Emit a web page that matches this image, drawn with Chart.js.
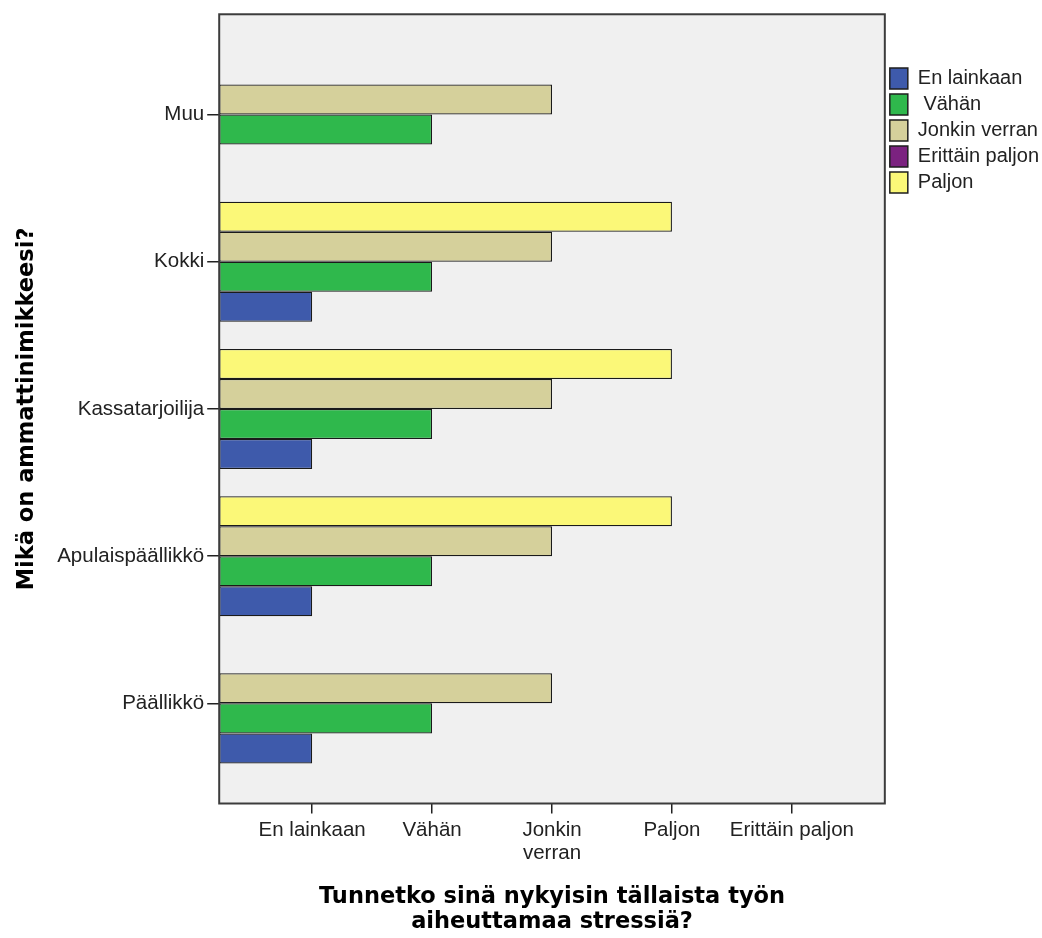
<!DOCTYPE html>
<html lang="fi">
<head>
<meta charset="utf-8">
<title>Työn aiheuttama stressi ammattinimikkeittäin</title>
<script src="https://cdn.jsdelivr.net/npm/chart.js@4.4.1/dist/chart.umd.min.js"></script>
<style>
  html, body { margin: 0; padding: 0; background: #ffffff; }
  #wrap { position: relative; width: 1042px; height: 938px; }
</style>
</head>
<body>
<div id="wrap"><canvas id="chart"></canvas></div>
<script>
// Ammattinimikkeet (pystyakseli, ylhäältä alas)
const categories = ['Muu', 'Kokki', 'Kassatarjoilija', 'Apulaispäällikkö', 'Päällikkö'];

// Stressin tasot vaaka-akselilla
const levelTicks = [1, 2, 3, 4, 5];
const levelLabels = ['En lainkaan', 'Vähän', ['Jonkin', 'verran'], 'Paljon', 'Erittäin paljon'];

// Vastausluokkien arvot ammattinimikkeittäin (null = ei palkkia)
const enLainkaan     = [null, 1, 1, 1, 1];
const vahan          = [2, 2, 2, 2, 2];
const jonkinVerran   = [3, 3, 3, 3, 3];
const erittainPaljon = [null, null, null, null, null];
const paljon         = [null, 4, 4, 4, null];

// Sarjojen nimet (palkkien järjestys ryhmässä ylhäältä alas)
const seriesNames = ['Paljon', 'Erittäin paljon', 'Jonkin verran', ' Vähän', 'En lainkaan'];
const seriesValues = [paljon, erittainPaljon, jonkinVerran, vahan, enLainkaan];

// Värit
const seriesColors = ['#FBF878', '#7B2280', '#D5D09B', '#2FB84C', '#3E5AAB'];

const AXIS_MIN = 0.225, AXIS_MAX = 5.775;
const toPoints = values => values
  .map((v, i) => ({ x: v, y: i }))
  .filter(p => p.x !== null);

const datasets = seriesNames.map((name, k) => ({
  label: name,
  data: toPoints(seriesValues[k]),
  backgroundColor: seriesColors[k],
  borderColor: '#1a1a1a',
  borderWidth: 1.25,
  borderSkipped: false,
  base: AXIS_MIN,
  hidden: seriesValues[k].every(v => v === null),
  categoryPercentage: 0.815,
  barPercentage: 1
}));

// Harmaa kuva-ala ja sen kehys
const plotFrame = {
  id: 'plotFrame',
  beforeDraw(chart) {
    const { ctx, chartArea: a } = chart;
    ctx.save();
    ctx.fillStyle = '#F0F0F0';
    ctx.fillRect(a.left, a.top, a.right - a.left, a.bottom - a.top);
    ctx.restore();
  },
  afterDatasetsDraw(chart) {
    const { ctx, chartArea: a } = chart;
    ctx.save();
    ctx.strokeStyle = '#3c3c3c';
    ctx.lineWidth = 2;
    ctx.strokeRect(a.left, a.top, a.right - a.left, a.bottom - a.top);
    ctx.restore();
  }
};

const tickFont = { family: "'Liberation Sans', Arial, sans-serif", size: 20.5, lineHeight: 1.1 };
const titleFont = { family: "'DejaVu Sans', Verdana, sans-serif", size: 22.5, weight: 'bold', lineHeight: 1.12 };

new Chart(document.getElementById('chart'), {
  type: 'bar',
  data: { datasets },
  plugins: [plotFrame],
  options: {
    indexAxis: 'y',
    responsive: true,
    maintainAspectRatio: false,
    animation: false,
    layout: { padding: { top: 13, left: 4, right: -7, bottom: 3 } },
    scales: {
      x: {
        type: 'linear',
        position: 'bottom',
        min: AXIS_MIN,
        max: AXIS_MAX,
        afterBuildTicks: axis => { axis.ticks = levelTicks.map(v => ({ value: v })); },
        ticks: {
          autoSkip: false,
          maxRotation: 0,
          minRotation: 0,
          padding: 6,
          color: '#222222',
          font: tickFont,
          callback: v => levelLabels[levelTicks.indexOf(v)]
        },
        grid: { drawOnChartArea: false, drawTicks: true, tickLength: 10, color: '#222222', lineWidth: 1.5 },
        border: { display: false },
        title: {
          display: true,
          text: ['Tunnetko sinä nykyisin tällaista työn', 'aiheuttamaa stressiä?'],
          color: '#000000',
          font: titleFont,
          padding: { top: 14, bottom: 0 }
        }
      },
      y: {
        type: 'linear',
        reverse: true,
        offset: false,
        min: -0.68,
        max: 4.68,
        afterBuildTicks: axis => { axis.ticks = categories.map((c, i) => ({ value: i })); },
        ticks: {
          autoSkip: false,
          padding: 3,
          color: '#222222',
          font: tickFont,
          callback: v => categories[v]
        },
        grid: { offset: false, drawOnChartArea: false, drawTicks: true, tickLength: 12, color: '#222222', lineWidth: 1.5 },
        border: { display: false },
        title: {
          display: true,
          text: 'Mikä on ammattinimikkeesi?',
          color: '#000000',
          font: titleFont,
          padding: { top: 10.5, bottom: 14.5 }
        }
      }
    },
    plugins: {
      tooltip: { enabled: false },
      legend: {
        position: 'right',
        align: 'start',
        reverse: true,
        onClick: () => {},
        title: { display: true, text: '', font: { size: 10, lineHeight: 1 }, padding: { top: 40, bottom: 0 } },
        labels: {
          color: '#222222',
          font: { family: "'Liberation Sans', Arial, sans-serif", size: 20 },
          boxWidth: 18,
          boxHeight: 21,
          padding: 5,
          generateLabels(chart) {
            const items = Chart.defaults.plugins.legend.labels.generateLabels(chart);
            return items.map(item => Object.assign(item, {
              hidden: false,
              lineWidth: 1.5,
              strokeStyle: '#1e1e1e'
            }));
          }
        }
      }
    }
  }
});
</script>
</body>
</html>
